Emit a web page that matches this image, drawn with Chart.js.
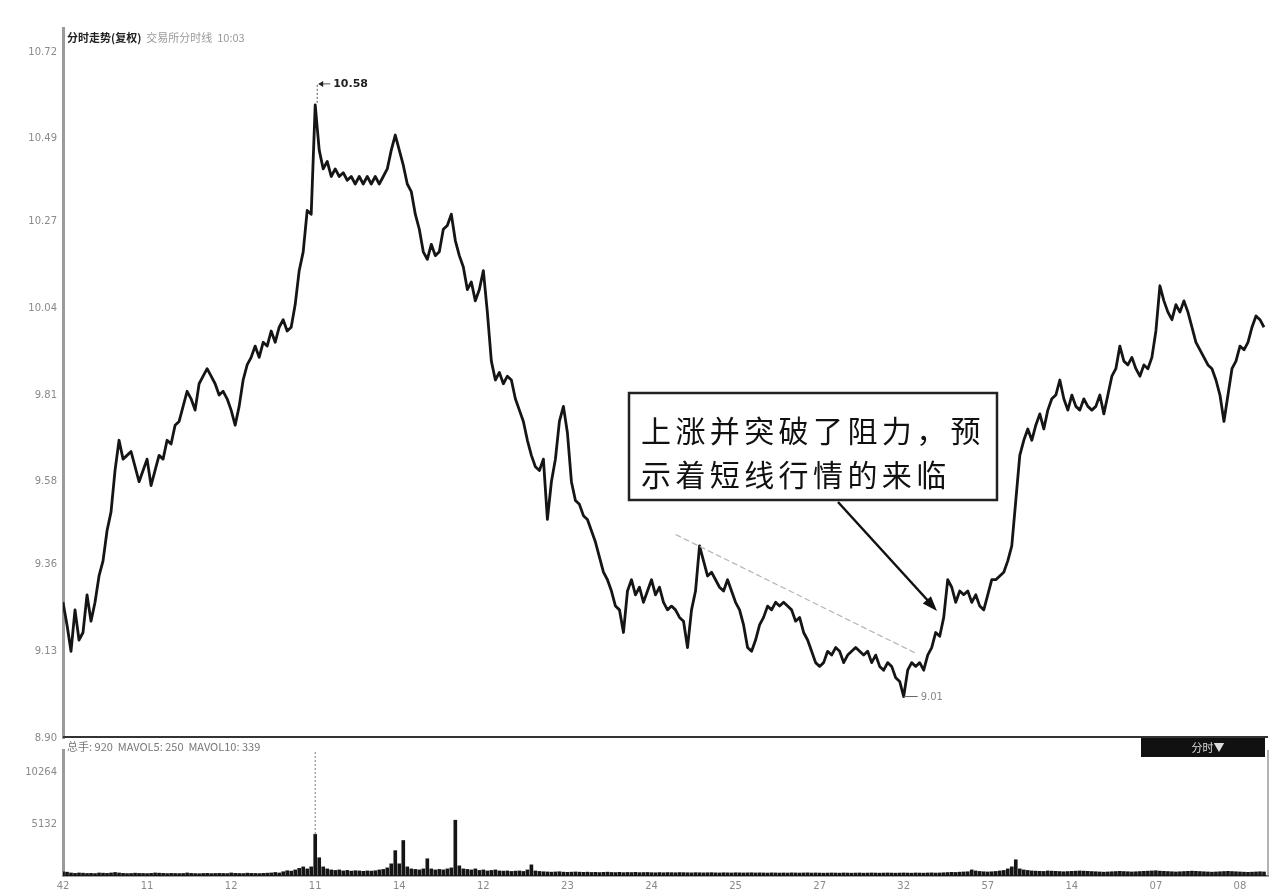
<!DOCTYPE html>
<html>
<head>
<meta charset="utf-8">
<script src="https://cdn.jsdelivr.net/npm/chart.js@4.4.0/dist/chart.umd.min.js"></script>
<style>
  body { margin: 0; background: #fff; }
  #wrap { position: relative; width: 1284px; height: 896px; background: #fff; overflow: hidden; }
  canvas { position: absolute; left: 0; }
  #priceChart { top: 0; }
  #volChart { top: 738px; }
</style>
</head>
<body>
<div id="wrap">
  <canvas id="priceChart" width="1284" height="750"></canvas>
  <canvas id="volChart" width="1284" height="158"></canvas>
</div>
<script>
// 价格（按分时顺序）
const price = [
  9.26, 9.20, 9.13, 9.24, 9.16, 9.18, 9.28, 9.21, 9.26, 9.33,
  9.37, 9.45, 9.50, 9.61, 9.69, 9.64, 9.65, 9.66, 9.62, 9.58,
  9.61, 9.64, 9.57, 9.61, 9.65, 9.64, 9.69, 9.68, 9.73, 9.74,
  9.78, 9.82, 9.80, 9.77, 9.84, 9.86, 9.88, 9.86, 9.84, 9.81,
  9.82, 9.80, 9.77, 9.73, 9.78, 9.85, 9.89, 9.91, 9.94, 9.91,
  9.95, 9.94, 9.98, 9.95, 9.99, 10.01, 9.98, 9.99, 10.05, 10.14,
  10.19, 10.30, 10.29, 10.58, 10.46, 10.41, 10.43, 10.39, 10.41, 10.39,
  10.40, 10.38, 10.39, 10.37, 10.39, 10.37, 10.39, 10.37, 10.39, 10.37,
  10.39, 10.41, 10.46, 10.50, 10.46, 10.42, 10.37, 10.35, 10.29, 10.25,
  10.19, 10.17, 10.21, 10.18, 10.19, 10.25, 10.26, 10.29, 10.22, 10.18,
  10.15, 10.09, 10.11, 10.06, 10.09, 10.14, 10.03, 9.90, 9.85, 9.87,
  9.84, 9.86, 9.85, 9.80, 9.77, 9.74, 9.69, 9.65, 9.62, 9.61,
  9.64, 9.48, 9.58, 9.64, 9.74, 9.78, 9.71, 9.58, 9.53, 9.52,
  9.49, 9.48, 9.45, 9.42, 9.38, 9.34, 9.32, 9.29, 9.25, 9.24,
  9.18, 9.29, 9.32, 9.28, 9.30, 9.26, 9.29, 9.32, 9.28, 9.30,
  9.26, 9.24, 9.25, 9.24, 9.22, 9.21, 9.14, 9.24, 9.29, 9.41,
  9.37, 9.33, 9.34, 9.32, 9.30, 9.29, 9.32, 9.29, 9.26, 9.24,
  9.20, 9.14, 9.13, 9.16, 9.20, 9.22, 9.25, 9.24, 9.26, 9.25,
  9.26, 9.25, 9.24, 9.21, 9.22, 9.18, 9.16, 9.13, 9.10, 9.09,
  9.10, 9.13, 9.12, 9.14, 9.13, 9.10, 9.12, 9.13, 9.14, 9.13,
  9.12, 9.13, 9.10, 9.12, 9.09, 9.08, 9.10, 9.09, 9.06, 9.05,
  9.01, 9.08, 9.10, 9.09, 9.10, 9.08, 9.12, 9.14, 9.18, 9.17,
  9.22, 9.32, 9.30, 9.26, 9.29, 9.28, 9.29, 9.26, 9.28, 9.25,
  9.24, 9.28, 9.32, 9.32, 9.33, 9.34, 9.37, 9.41, 9.53, 9.65,
  9.69, 9.72, 9.69, 9.73, 9.76, 9.72, 9.77, 9.80, 9.81, 9.85,
  9.80, 9.77, 9.81, 9.78, 9.77, 9.80, 9.78, 9.77, 9.78, 9.81,
  9.76, 9.81, 9.86, 9.88, 9.94, 9.90, 9.89, 9.91, 9.88, 9.86,
  9.89, 9.88, 9.91, 9.98, 10.10, 10.06, 10.03, 10.01, 10.05, 10.03,
  10.06, 10.03, 9.99, 9.95, 9.93, 9.91, 9.89, 9.88, 9.85, 9.81,
  9.74, 9.81, 9.88, 9.90, 9.94, 9.93, 9.95, 9.99, 10.02, 10.01,
  9.99
];

// 成交量
const volume = [
  420, 380, 300, 260, 300, 280, 250, 260, 240, 300,
  280, 260, 300, 350, 300, 260, 240, 250, 280, 260,
  250, 240, 260, 300, 280, 260, 240, 260, 250, 240,
  250, 300, 260, 240, 230, 250, 260, 240, 250, 260,
  250, 240, 300, 260, 250, 240, 280, 260, 250, 240,
  260, 280, 300, 350, 300, 420, 520, 480, 600, 750,
  900, 700, 900, 4100, 1800, 900, 700, 600, 550, 600,
  500, 550, 480, 520, 500, 460, 500, 480, 520, 600,
  650, 800, 1200, 2500, 1200, 3500, 900, 700, 650, 600,
  700, 1700, 700, 600, 650, 600, 700, 800, 5500, 1000,
  700, 650, 600, 700, 550, 600, 500, 550, 600, 500,
  480, 500, 450, 480, 500, 450, 600, 1100, 500, 450,
  420, 400, 380, 400, 420, 380, 360, 380, 400, 380,
  360, 380, 350, 360, 340, 360, 380, 350, 340, 360,
  330, 350, 340, 360, 330, 340, 350, 330, 320, 340,
  320, 340, 330, 320, 340, 330, 320, 310, 330, 320,
  310, 320, 330, 310, 300, 320, 310, 300, 320, 310,
  300, 310, 320, 300, 310, 300, 290, 310, 300, 290,
  300, 290, 310, 300, 290, 300, 310, 290, 300, 290,
  280, 290, 300, 290, 280, 300, 290, 280, 290, 300,
  280, 290, 300, 290, 280, 290, 300, 290, 280, 290,
  300, 290, 280, 300, 290, 280, 300, 310, 290, 300,
  320, 340, 360, 350, 380, 400, 420, 600, 500, 450,
  420, 400, 420, 450, 500, 550, 700, 900, 1600, 700,
  600, 550, 500, 480, 460, 450, 500, 480, 460, 440,
  420, 440, 460, 480, 500, 480, 460, 440, 420, 400,
  380, 400, 420, 440, 460, 440, 420, 400, 420, 440,
  460, 480, 500, 520, 480, 460, 440, 420, 400, 420,
  440, 460, 480, 460, 440, 420, 400, 380, 400, 420,
  440, 460, 440, 420, 400, 380, 360, 380, 400, 420,
  400
];

const priceTicks = [10.72, 10.49, 10.27, 10.04, 9.81, 9.58, 9.36, 9.13, 8.90];
const volTicks = [5132, 10264];
const dayLabels = ['42', '11', '12', '11', '14', '12', '23', '24', '25', '27', '32', '57', '14', '07', '08'];
const dayStep = 21;

const noteLines = ['上涨并突破了阻力，预', '示着短线行情的来临'];
const priceTitle = '分时走势(复权)';
const priceInfo = '  交易所分时线  10:03';
const volInfo = '总手: 920  MAVOL5: 250  MAVOL10: 339';

const hiIdx = price.indexOf(Math.max(...price));
const loIdx = price.indexOf(Math.min(...price));
const lastIdx = 301;

const tickFont = { family: 'DejaVu Sans', size: 10 };
const tickColor = '#8a8a8a';

// 价格图上的文字、框、箭头
const priceDecor = {
  id: 'priceDecor',
  afterDraw(chart) {
    const { ctx, chartArea: a, scales: { x, y } } = chart;
    ctx.save();

    // 外框
    ctx.strokeStyle = '#333';
    ctx.lineWidth = 2;
    ctx.beginPath();
    ctx.moveTo(a.left, a.bottom - 1);
    ctx.lineTo(a.right, a.bottom - 1);
    ctx.stroke();

    // 标题
    ctx.textBaseline = 'middle';
    ctx.fillStyle = '#222';
    ctx.font = 'bold 11px "Noto Sans CJK SC"';
    ctx.fillText(priceTitle, a.left + 4, 38);
    const tw = ctx.measureText(priceTitle).width;
    ctx.fillStyle = '#999';
    ctx.font = '11px "Noto Sans CJK SC"';
    ctx.fillText(priceInfo, a.left + 4 + tw, 38);

    // 最高价标记
    const hx = x.getPixelForValue(hiIdx);
    const hy = y.getPixelForValue(price[hiIdx]);
    ctx.strokeStyle = '#555';
    ctx.lineWidth = 1;
    ctx.setLineDash([2, 2]);
    ctx.beginPath();
    ctx.moveTo(hx + 2, hy - 20);
    ctx.lineTo(hx + 2, hy);
    ctx.stroke();
    ctx.setLineDash([]);
    ctx.beginPath();
    ctx.moveTo(hx + 4, hy - 21);
    ctx.lineTo(hx + 15, hy - 21);
    ctx.stroke();
    ctx.fillStyle = '#222';
    ctx.beginPath();
    ctx.moveTo(hx + 3, hy - 21);
    ctx.lineTo(hx + 8, hy - 24);
    ctx.lineTo(hx + 8, hy - 18);
    ctx.closePath();
    ctx.fill();
    ctx.font = 'bold 11px "DejaVu Sans"';
    ctx.fillText(price[hiIdx].toFixed(2), hx + 18, hy - 21);

    // 最低价标记
    const lx = x.getPixelForValue(loIdx);
    const ly = y.getPixelForValue(price[loIdx]);
    ctx.strokeStyle = '#666';
    ctx.beginPath();
    ctx.moveTo(lx, ly);
    ctx.lineTo(lx + 14, ly);
    ctx.stroke();
    ctx.fillStyle = '#888';
    ctx.font = '10px "DejaVu Sans"';
    ctx.fillText(price[loIdx].toFixed(2), lx + 17, ly + 1);

    // 压力线（虚线）
    ctx.strokeStyle = '#b5b5b5';
    ctx.lineWidth = 1.2;
    ctx.setLineDash([6, 3]);
    ctx.beginPath();
    ctx.moveTo(x.getPixelForValue(153), y.getPixelForValue(9.44));
    ctx.lineTo(x.getPixelForValue(213), y.getPixelForValue(9.125));
    ctx.stroke();
    ctx.setLineDash([]);

    // 注释框
    ctx.fillStyle = '#fff';
    ctx.fillRect(629, 393, 368, 107);
    ctx.strokeStyle = '#222';
    ctx.lineWidth = 2.5;
    ctx.strokeRect(629, 393, 368, 107);
    ctx.fillStyle = '#111';
    ctx.font = '30px "Noto Sans CJK SC"';
    ctx.textBaseline = 'middle';
    noteLines.forEach((line, r) => {
      [...line].forEach((ch, k) => {
        ctx.fillText(ch, 641 + k * 34.4, 431 + r * 44);
      });
    });

    // 箭头
    const x0 = 838, y0 = 502, x1 = 937, y1 = 611;
    ctx.strokeStyle = '#111';
    ctx.lineWidth = 2.5;
    ctx.beginPath();
    ctx.moveTo(x0, y0);
    ctx.lineTo(x1 - 6, y1 - 7);
    ctx.stroke();
    const ang = Math.atan2(y1 - y0, x1 - x0);
    ctx.fillStyle = '#111';
    ctx.beginPath();
    ctx.moveTo(x1, y1);
    ctx.lineTo(x1 - 16 * Math.cos(ang - 0.35), y1 - 16 * Math.sin(ang - 0.35));
    ctx.lineTo(x1 - 16 * Math.cos(ang + 0.35), y1 - 16 * Math.sin(ang + 0.35));
    ctx.closePath();
    ctx.fill();

    ctx.restore();
  }
};

// 成交量图的文字和标记
const volDecor = {
  id: 'volDecor',
  afterDraw(chart) {
    const { ctx, chartArea: a, scales: { x, y } } = chart;
    ctx.save();
    ctx.strokeStyle = '#999';
    ctx.lineWidth = 1.5;
    ctx.beginPath();
    ctx.moveTo(a.right, a.top);
    ctx.lineTo(a.right, a.bottom);
    ctx.stroke();

    ctx.textBaseline = 'middle';
    ctx.fillStyle = '#777';
    ctx.font = '11px "Noto Sans CJK SC"';
    ctx.fillText(volInfo, a.left + 4, 9);

    ctx.fillStyle = '#111';
    ctx.fillRect(1141, 0, 124, 19);
    ctx.fillStyle = '#ddd';
    ctx.font = '11px "Noto Sans CJK SC"';
    ctx.textAlign = 'center';
    ctx.fillText('分时▼', 1208, 10);
    ctx.textAlign = 'left';

    const hx = x.getPixelForValue(hiIdx);
    ctx.strokeStyle = '#777';
    ctx.lineWidth = 1;
    ctx.setLineDash([2, 2]);
    ctx.beginPath();
    ctx.moveTo(hx, a.top + 2);
    ctx.lineTo(hx, y.getPixelForValue(volume[hiIdx]));
    ctx.stroke();
    ctx.restore();
  }
};

new Chart(document.getElementById('priceChart').getContext('2d'), {
  type: 'line',
  data: {
    datasets: [{
      data: price.map((v, i) => ({ x: i, y: v })),
      borderColor: '#151515',
      borderWidth: 2.8,
      pointRadius: 0,
      tension: 0,
      borderJoinStyle: 'round'
    }]
  },
  options: {
    responsive: false,
    animation: false,
    layout: { padding: { top: 28, right: 16, bottom: 3, left: 0 } },
    plugins: { legend: { display: false }, tooltip: { enabled: false } },
    scales: {
      x: { type: 'linear', min: 0, max: lastIdx, display: false },
      y: {
        min: 8.90,
        max: 10.784,
        afterBuildTicks: axis => { axis.ticks = priceTicks.map(v => ({ value: v })); },
        afterFit: axis => { axis.width = 63; },
        ticks: { callback: v => v.toFixed(2), color: tickColor, font: tickFont, padding: 6 },
        grid: { display: false, drawTicks: false },
        border: { display: true, color: '#9a9a9a', width: 3 }
      }
    }
  },
  plugins: [priceDecor]
});

new Chart(document.getElementById('volChart').getContext('2d'), {
  type: 'bar',
  data: {
    datasets: [{
      data: volume.map((v, i) => ({ x: i, y: v })),
      backgroundColor: '#151515',
      barThickness: 3
    }]
  },
  options: {
    responsive: false,
    animation: false,
    layout: { padding: { top: 0, right: 16, bottom: 0, left: 0 } },
    plugins: { legend: { display: false }, tooltip: { enabled: false } },
    scales: {
      x: {
        type: 'linear',
        min: 0,
        max: lastIdx,
        offset: false,
        afterBuildTicks: axis => { axis.ticks = dayLabels.map((_, k) => ({ value: k * dayStep })); },
        afterFit: axis => { axis.height = 20; },
        ticks: {
          callback: v => dayLabels[Math.round(v / dayStep)],
          color: tickColor, font: tickFont, padding: 4, maxRotation: 0, autoSkip: false
        },
        grid: { display: false, drawTicks: false },
        border: { display: true, color: '#444', width: 1.5 }
      },
      y: {
        min: 0,
        max: 12425,
        afterBuildTicks: axis => { axis.ticks = volTicks.map(v => ({ value: v })); },
        afterFit: axis => { axis.width = 63; },
        ticks: { callback: v => String(v), color: tickColor, font: tickFont, padding: 6 },
        grid: { display: false, drawTicks: false },
        border: { display: true, color: '#9a9a9a', width: 3 }
      }
    }
  },
  plugins: [volDecor]
});
</script>
</body>
</html>
